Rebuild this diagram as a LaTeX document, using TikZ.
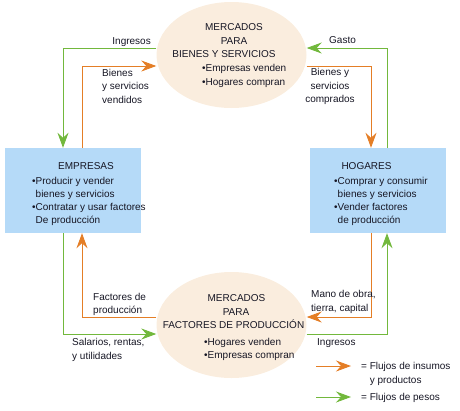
\documentclass[tikz,border=0pt]{standalone}
\usepackage{fontspec}
\setmainfont{Liberation Sans}
\usetikzlibrary{shapes.geometric,arrows.meta}
\definecolor{ogn}{RGB}{228,126,38}
\definecolor{grn}{RGB}{114,184,60}
\definecolor{boxblue}{RGB}{181,218,248}
\definecolor{beige}{RGB}{250,237,222}
\definecolor{ink}{RGB}{22,22,36}
\tikzset{
  mkt/.style={ellipse,fill=beige,draw=none,minimum width=150pt,minimum height=106pt,inner sep=0pt},
  actor/.style={rectangle,fill=boxblue,draw=none,minimum width=136pt,minimum height=85pt,inner sep=0pt},
  txt/.style={inner sep=0pt,text=ink,font=\fontsize{10}{13.5}\selectfont},
  oarr/.style={draw=ogn,line width=0.9pt,-{Stealth[length=15pt,width=11pt,inset=5pt]}},
  garr/.style={draw=grn,line width=0.9pt,-{Stealth[length=15pt,width=11pt,inset=5pt]}},
}
\newcommand{\bul}{\textbullet}
\newcommand{\bsp}{\phantom{\textbullet}}
\begin{document}
\begin{tikzpicture}[x=1pt,y=-1pt]
\useasboundingbox (0,0) rectangle (460,410);
% main shapes
\node[mkt] (mb) at (231.5,55) {};
\node[mkt] (mf) at (231.5,325) {};
\node[actor] (emp) at (73,190.5) {};
\node[actor] (hog) at (378,190.5) {};
% connectors
\draw[garr] ([yshift=7pt]mb.west) -| ([xshift=-10pt]emp.north);
\draw[oarr] ([xshift=9pt]emp.north) |- ([yshift=-11pt]mb.west);
\draw[garr] ([xshift=9pt]hog.north) |- ([yshift=7pt]mb.east);
\draw[oarr] ([yshift=-11pt]mb.east) -| ([xshift=-7pt]hog.north);
\draw[oarr] ([xshift=-7pt]hog.south) |- ([yshift=8pt]mf.east);
\draw[garr] ([yshift=-9pt]mf.east) -| ([xshift=9pt]hog.south);
\draw[oarr] ([yshift=8pt]mf.west) -| ([xshift=9pt]emp.south);
\draw[garr] ([xshift=-10pt]emp.south) |- ([yshift=-9pt]mf.west);
% top market text
\node[txt,anchor=base] (t1) at (234,30.5) {MERCADOS};
\node[txt,anchor=base] (t2) at (234,44) {PARA};
\node[txt,anchor=base] (t3) at (224,57.5) {BIENES Y SERVICIOS};
\node[txt,anchor=base west] (t4) at (202,71.5) {\bul Empresas venden};
\node[txt,anchor=base west] (t5) at (202,85) {\bul Hogares compran};
% bottom market text
\node[txt,anchor=base] (b1) at (236.5,301.5) {MERCADOS};
\node[txt,anchor=base] (b2) at (236,315) {PARA};
\node[txt,anchor=base] (b3) at (233.5,328) {FACTORES DE PRODUCCIÓN};
\node[txt,anchor=base west] (b4) at (204,345.5) {\bul Hogares venden};
\node[txt,anchor=base west] (b5) at (204,358.5) {\bul Empresas compran};
% empresas text
\node[txt,anchor=base] (e0) at (86,169.5) {EMPRESAS};
\node[txt,anchor=base west] (e1) at (32,184.5) {\bul Producir y vender};
\node[txt,anchor=base west] (e2) at (32,197) {\bsp bienes y servicios};
\node[txt,anchor=base west] (e3) at (32,210.5) {\bul Contratar y usar factores};
\node[txt,anchor=base west] (e4) at (32,223.5) {\bsp De producción};
% hogares text
\node[txt,anchor=base] (h0) at (366.5,169.5) {HOGARES};
\node[txt,anchor=base west] (h1) at (334,184) {\bul Comprar y consumir};
\node[txt,anchor=base west] (h2) at (334,197) {\bsp bienes y servicios};
\node[txt,anchor=base west] (h3) at (334,210.5) {\bul Vender factores};
\node[txt,anchor=base west] (h4) at (334,223.5) {\bsp de producción};
% flow labels (base anchor = last line's baseline)
\node[txt,anchor=base east] (l1) at (151,44.5) {Ingresos};
\node[txt,anchor=base west,align=left] (l2) at (102,103) {Bienes\\y servicios\\vendidos};
\node[txt,anchor=base west] (l3) at (329,43.5) {Gasto};
\node[txt,anchor=base,align=center] (l4) at (330,102.5) {Bienes y\\servicios\\comprados};
\node[txt,anchor=base west,align=left] (l5) at (93,313.5) {Factores de\\producción};
\node[txt,anchor=base west,align=left] (l6) at (72,359) {Salarios, rentas,\\y utilidades};
\node[txt,anchor=base west,align=left] (l7) at (311,311) {Mano de obra,\\tierra, capital};
\node[txt,anchor=base west] (l8) at (317,345.5) {Ingresos};
% legend
\coordinate (lo1) at (316,366);
\coordinate (lo2) at (351,366);
\coordinate (lg1) at (316,397);
\coordinate (lg2) at (351,397);
\draw[oarr] (lo1) -- (lo2);
\draw[garr] (lg1) -- (lg2);
\node[txt,anchor=base west,align=left] (k1) at (361,383) {= Flujos de insumos\\\phantom{=} y productos};
\node[txt,anchor=base west] (k2) at (361,400) {= Flujos de pesos};
\end{tikzpicture}
\end{document}
